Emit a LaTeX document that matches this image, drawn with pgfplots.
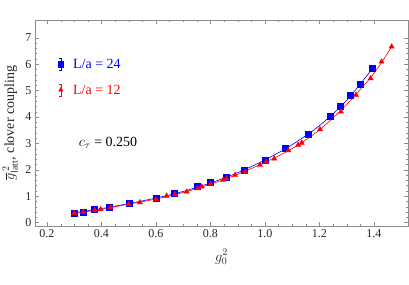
\documentclass[border=0pt]{standalone}
\usepackage{pgfplots}
\pgfplotsset{compat=1.18}
\usepackage{fontspec}
\setmainfont{Liberation Serif}
\begin{document}
\begin{tikzpicture}
\useasboundingbox (0,0) rectangle (409pt,284pt);
\begin{axis}[
  at={(35pt,58pt)}, anchor=south west, scale only axis,
  width=373pt, height=206pt,
  xmin=0.156, xmax=1.525, ymin=-0.13, ymax=7.67,
  xtick={0.2,0.4,0.6,0.8,1.0,1.2,1.4}, ytick={0,1,2,3,4,5,6,7},
  minor x tick num=3, minor y tick num=4,
  xticklabel style={/pgf/number format/.cd, fixed, fixed zerofill, precision=1},
  /pgf/number format/assume math mode=true,
  tick align=inside, major tick length=4pt, minor tick length=2pt,
  axis line style={black!45}, tick style={black!45},
  ticklabel style={font=\fontsize{12}{13}\selectfont, text=black!85},
  xlabel={$g_0^2$},
  ylabel={$\overline{g}^{\,2}_{\mathrm{latt}}$, clover coupling},
  label style={font=\fontsize{14}{15}\selectfont, text=black!85},
  xlabel style={at={(axis description cs:0.5,0)}, anchor=center, yshift=-31pt},
  ylabel style={at={(axis description cs:0,0.5)}, anchor=center, rotate=0, yshift=25pt},
]
% fit curves
\addplot[blue, line width=0.6pt, smooth, no marks] coordinates {
(0.3,0.37)(0.4,0.53)(0.5,0.72)(0.6,0.93)(0.7,1.18)(0.8,1.50)(0.9,1.89)(1.0,2.37)(1.1,2.95)(1.2,3.67)(1.3,4.63)(1.395,5.84)};
\addplot[red, line width=0.6pt, smooth, no marks] coordinates {
(0.3,0.35)(0.4,0.50)(0.5,0.70)(0.6,0.89)(0.7,1.14)(0.8,1.45)(0.9,1.83)(1.0,2.28)(1.1,2.80)(1.2,3.51)(1.3,4.47)(1.4,5.65)(1.465,6.66)};
% L/a = 24
\addplot[blue, only marks, mark=square*, mark size=3pt] coordinates {
(0.300,0.37)(0.333,0.41)(0.375,0.50)(0.429,0.60)(0.500,0.73)(0.600,0.93)(0.667,1.10)(0.750,1.36)(0.800,1.52)(0.857,1.73)(0.923,1.99)(1.000,2.37)(1.073,2.80)(1.157,3.35)(1.239,4.03)(1.276,4.42)(1.314,4.82)(1.351,5.25)(1.395,5.84)};
% L/a = 12
\addplot[red, only marks, mark=triangle*, mark size=3pt] coordinates {
(0.300,0.35)(0.333,0.40)(0.375,0.46)(0.397,0.50)(0.434,0.575)(0.500,0.70)(0.541,0.765)(0.600,0.88)(0.639,1.01)(0.670,1.07)(0.713,1.17)(0.752,1.29)(0.768,1.36)(0.800,1.46)(0.847,1.61)(0.859,1.67)(0.890,1.80)(0.927,1.92)(0.982,2.18)(1.004,2.30)(1.034,2.42)(1.086,2.73)(1.122,2.94)(1.135,3.02)(1.202,3.53)(1.279,4.20)(1.334,4.83)(1.388,5.46)(1.428,6.09)(1.465,6.66)};
% legend
\addplot[blue, mark=square*, mark size=2.6pt, error bars/.cd, y dir=both, y explicit, error mark options={rotate=90, mark size=1.5pt, blue}] coordinates {(0.251,6.0) +- (0,0.22)};
\addplot[red, mark=triangle*, mark size=2.6pt, error bars/.cd, y dir=both, y explicit, error mark options={rotate=90, mark size=1.5pt, red}] coordinates {(0.251,5.02) +- (0,0.22)};
\node[blue, anchor=west, font=\fontsize{14}{15}\selectfont] at (axis cs:0.283,6.0) {L/a = 24};
\node[red, anchor=west, font=\fontsize{14}{15}\selectfont] at (axis cs:0.283,5.02) {L/a = 12};
\node[font=\fontsize{14}{15}\selectfont] at (axis cs:0.424,3.01) {$c_\tau$ = 0.250};
\end{axis}
\end{tikzpicture}
\end{document}
